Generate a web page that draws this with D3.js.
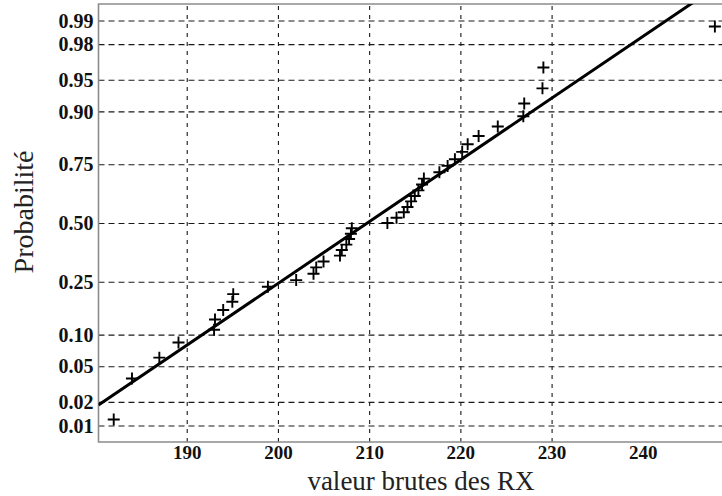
<!DOCTYPE html>
<html>
<head>
<meta charset="utf-8">
<script src="https://cdnjs.cloudflare.com/ajax/libs/d3/7.8.5/d3.min.js"></script>
<style>
  html, body { margin: 0; padding: 0; background: #fff; }
  svg { display: block; }
  .tick-label text { font-family: 'Liberation Serif', 'Times New Roman', serif; font-weight: bold; fill: #111; }
  .grid line { stroke: #1a1a1a; stroke-width: 1.1; }
  .grid .domain { display: none; }
</style>
</head>
<body>
<svg class="normplot"></svg>
<script>
const app = (function () {
  'use strict';

  // probability ticks on the normal scale
  const probTicks = [0.01, 0.02, 0.05, 0.10, 0.25, 0.50, 0.75, 0.90, 0.95, 0.98, 0.99];
  const probLabels = ['0.01', '0.02', '0.05', '0.10', '0.25', '0.50', '0.75', '0.90', '0.95', '0.98', '0.99'];

  // x ticks (no grid line at 240 in the original)
  const xTicks = [190, 200, 210, 220, 230, 240];
  const xGridTicks = [190, 200, 210, 220, 230];

  // raw RX values, sorted
  const rxValues = [182.0, 184.0, 187.0, 189.1, 193.0, 193.1, 194.0, 195.0, 195.1, 198.9,
    202.0, 203.9, 204.2, 205.0, 206.8, 207.0, 207.5, 207.8, 208.0, 208.1,
    212.0, 213.0, 213.8, 214.2, 214.6, 215.0, 215.4, 215.8, 216.0, 217.7,
    218.6, 219.4, 220.2, 220.8, 222.0, 224.1, 226.9, 227.0, 229.0, 229.1, 247.9];

  // probability read for each point
  const rxProb = [0.012, 0.037, 0.061, 0.085, 0.110, 0.134, 0.159, 0.183, 0.207, 0.232,
    0.256, 0.280, 0.305, 0.329, 0.354, 0.378, 0.402, 0.427, 0.451, 0.476,
    0.500, 0.524, 0.549, 0.573, 0.598, 0.622, 0.646, 0.671, 0.695, 0.720,
    0.744, 0.768, 0.793, 0.817, 0.841, 0.866, 0.890, 0.915, 0.939, 0.963, 0.988];

  // reference line (mean, std)
  const fitMean = 209.8;
  const fitSd = 14.1;

  // inverse normal cdf (Acklam)
  function probit (p) {
    const a = [-39.69683028665376, 220.9460984245205, -275.9285104469687, 138.3577518672690, -30.66479806614716, 2.506628277459239];
    const b = [-54.47609879822406, 161.5858368580409, -155.6989798598866, 66.80131188771972, -13.28068155288572];
    const c = [-0.007784894002430293, -0.3223964580411365, -2.400758277161838, -2.549732539343734, 4.374664141464968, 2.938163982698783];
    const d = [0.007784695709041462, 0.3224671290700398, 2.445134137142996, 3.754408661907416];
    const pl = 0.02425;
    let q, r;
    if (p < pl) {
      q = Math.sqrt(-2 * Math.log(p));
      return (((((c[0] * q + c[1]) * q + c[2]) * q + c[3]) * q + c[4]) * q + c[5]) /
        ((((d[0] * q + d[1]) * q + d[2]) * q + d[3]) * q + 1);
    }
    if (p > 1 - pl) {
      q = Math.sqrt(-2 * Math.log(1 - p));
      return -(((((c[0] * q + c[1]) * q + c[2]) * q + c[3]) * q + c[4]) * q + c[5]) /
        ((((d[0] * q + d[1]) * q + d[2]) * q + d[3]) * q + 1);
    }
    q = p - 0.5;
    r = q * q;
    return (((((a[0] * r + a[1]) * r + a[2]) * r + a[3]) * r + a[4]) * r + a[5]) * q /
      (((((b[0] * r + b[1]) * r + b[2]) * r + b[3]) * r + b[4]) * r + 1);
  }

  function init () {
    const W = 722;
    const H = 496;
    const left = 98.5;
    const top = 4;
    const bottom = 442;
    const right = 724;

    const svg = d3.select('.normplot')
      .attr('width', W)
      .attr('height', H);

    svg.append('rect').attr('width', W).attr('height', H).attr('fill', '#fff');

    const x = d3.scaleLinear()
      .domain([180.33, 248.9])
      .range([left, right]);

    // y works on z-scores
    const y = d3.scaleLinear()
      .domain([-2.515, 2.515])
      .range([bottom, top]);

    const yp = function (p) { return y(probit(p)); };

    // grids
    svg.append('g')
      .attr('class', 'grid')
      .attr('transform', 'translate(' + left + ',0)')
      .call(d3.axisLeft(y)
        .tickValues(probTicks.map(probit))
        .tickSize(-(right - left))
        .tickFormat(''))
      .selectAll('line')
      .attr('stroke-dasharray', '6,4');

    svg.append('g')
      .attr('class', 'grid')
      .attr('transform', 'translate(0,' + bottom + ')')
      .call(d3.axisBottom(x)
        .tickValues(xGridTicks)
        .tickSize(-(bottom - top))
        .tickFormat(''))
      .selectAll('line')
      .attr('stroke-dasharray', '4,5');

    // frame
    svg.append('path')
      .attr('d', 'M' + right + ',' + top + 'H' + left + 'V' + bottom + 'H' + right)
      .attr('fill', 'none')
      .attr('stroke', '#8c8c8c')
      .attr('stroke-width', 1.6);

    // tick labels
    const yAxis = svg.append('g')
      .attr('class', 'tick-label')
      .attr('transform', 'translate(' + (left - 5) + ',0)')
      .call(d3.axisLeft(y)
        .tickValues(probTicks.map(probit))
        .tickSize(0)
        .tickFormat(function (d, i) { return probLabels[i]; }));
    yAxis.select('.domain').remove();
    yAxis.selectAll('text')
      .attr('font-size', 20)
      .attr('x', 0)
      .attr('dy', '0.33em');

    const xAxis = svg.append('g')
      .attr('class', 'tick-label')
      .attr('transform', 'translate(0,' + bottom + ')')
      .call(d3.axisBottom(x)
        .tickValues(xTicks)
        .tickSize(0)
        .tickFormat(d3.format('d')));
    xAxis.select('.domain').remove();
    xAxis.selectAll('text')
      .attr('font-size', 19)
      .attr('y', 17)
      .attr('dy', 0);

    // clip for the line
    svg.append('clipPath')
      .attr('id', 'plotClip')
      .append('rect')
      .attr('x', left)
      .attr('y', top)
      .attr('width', right - left)
      .attr('height', bottom - top);

    const lineX = x.domain();
    svg.append('path')
      .attr('clip-path', 'url(#plotClip)')
      .attr('d', d3.line()
        .x(function (d) { return x(d); })
        .y(function (d) { return y((d - fitMean) / fitSd); })(lineX))
      .attr('fill', 'none')
      .attr('stroke', '#000')
      .attr('stroke-width', 3);

    // markers
    const s = 6;
    svg.append('g')
      .selectAll('path')
      .data(rxValues)
      .enter().append('path')
      .attr('d', function (d, i) {
        const cx = x(d);
        const cy = yp(rxProb[i]);
        return 'M' + (cx - s) + ',' + cy + 'H' + (cx + s) + 'M' + cx + ',' + (cy - s) + 'V' + (cy + s);
      })
      .attr('stroke', '#000')
      .attr('stroke-width', 1.9)
      .attr('fill', 'none');

    // axis titles
    svg.append('text')
      .attr('x', 421)
      .attr('y', 490)
      .attr('text-anchor', 'middle')
      .attr('font-family', 'Liberation Serif, Times New Roman, serif')
      .attr('font-size', 27)
      .attr('fill', '#222')
      .text('valeur brutes des RX');

    svg.append('text')
      .attr('transform', 'translate(33,212) rotate(-90)')
      .attr('text-anchor', 'middle')
      .attr('font-family', 'Liberation Serif, Times New Roman, serif')
      .attr('font-size', 28)
      .attr('fill', '#222')
      .text('Probabilité');
  }

  return {
    init: init
  };
}());

window.addEventListener('load', app.init);
</script>
</body>
</html>
